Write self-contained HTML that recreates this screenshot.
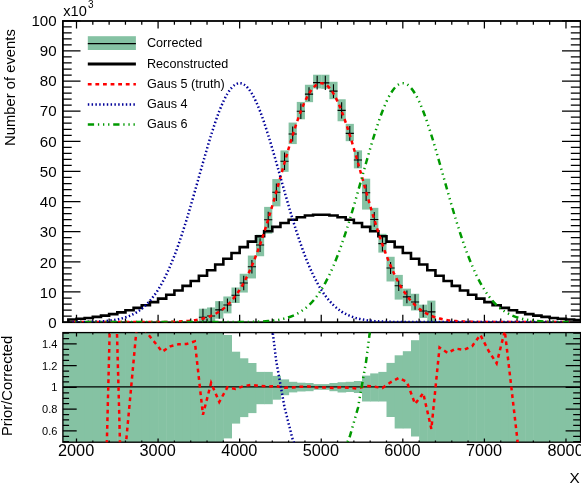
<!DOCTYPE html>
<html><head><meta charset="utf-8"><title>plot</title>
<style>
html,body{margin:0;padding:0;background:#fff;}
body{width:581px;height:484px;position:relative;overflow:hidden;font-family:"Liberation Sans",sans-serif;color:#000;}
</style></head><body>
<svg width="581" height="484" viewBox="0 0 581 484" style="position:absolute;left:0;top:0">
<defs><clipPath id="c1"><rect x="62.9" y="21" width="517.7" height="301.2"/></clipPath><clipPath id="c2"><rect x="62.9" y="332.6" width="517.7" height="109.6"/></clipPath></defs>
<g clip-path="url(#c1)">
<rect x="198.87" y="308.7" width="8.16" height="17.2" fill="#85c2a3"/>
<rect x="207.03" y="307.47" width="8.16" height="17.2" fill="#85c2a3"/>
<rect x="215.19" y="301.15" width="8.16" height="17.5" fill="#85c2a3"/>
<rect x="223.34" y="296.48" width="8.16" height="16.9" fill="#85c2a3"/>
<rect x="231.5" y="287.5" width="8.16" height="15.5" fill="#85c2a3"/>
<rect x="239.66" y="273.76" width="8.16" height="18.8" fill="#85c2a3"/>
<rect x="247.82" y="255.55" width="8.16" height="22.9" fill="#85c2a3"/>
<rect x="255.98" y="234.74" width="8.16" height="21.5" fill="#85c2a3"/>
<rect x="264.13" y="206.89" width="8.16" height="26.8" fill="#85c2a3"/>
<rect x="272.29" y="179.06" width="8.16" height="27.3" fill="#85c2a3"/>
<rect x="280.45" y="150.44" width="8.16" height="21.4" fill="#85c2a3"/>
<rect x="288.61" y="122.57" width="8.16" height="21.5" fill="#85c2a3"/>
<rect x="296.77" y="101.91" width="8.16" height="17.4" fill="#85c2a3"/>
<rect x="304.92" y="84.76" width="8.16" height="17.4" fill="#85c2a3"/>
<rect x="313.08" y="74.72" width="8.16" height="13.7" fill="#85c2a3"/>
<rect x="321.24" y="74.73" width="8.16" height="14.1" fill="#85c2a3"/>
<rect x="329.4" y="81.78" width="8.16" height="17.4" fill="#85c2a3"/>
<rect x="337.56" y="99.26" width="8.16" height="22" fill="#85c2a3"/>
<rect x="345.71" y="123.87" width="8.16" height="17.3" fill="#85c2a3"/>
<rect x="353.87" y="150.37" width="8.16" height="18" fill="#85c2a3"/>
<rect x="362.03" y="178.68" width="8.16" height="30.9" fill="#85c2a3"/>
<rect x="370.19" y="207.84" width="8.16" height="23.3" fill="#85c2a3"/>
<rect x="378.35" y="233.81" width="8.16" height="18.8" fill="#85c2a3"/>
<rect x="386.5" y="256.78" width="8.16" height="24.7" fill="#85c2a3"/>
<rect x="394.66" y="274.89" width="8.16" height="24.7" fill="#85c2a3"/>
<rect x="402.82" y="288.66" width="8.16" height="17.5" fill="#85c2a3"/>
<rect x="410.98" y="293.76" width="8.16" height="16.7" fill="#85c2a3"/>
<rect x="419.14" y="304.66" width="8.16" height="13.3" fill="#85c2a3"/>
<rect x="427.29" y="300.62" width="8.16" height="21.8" fill="#85c2a3"/>
</g>
<rect x="62.9" y="21" width="517.7" height="301.2" fill="none" stroke="#000" stroke-width="1.8"/><path d="M76.5 21v7.5M76.5 322.2v-7.5M92.82 21v3.8M92.82 322.2v-3.8M109.13 21v3.8M109.13 322.2v-3.8M125.45 21v3.8M125.45 322.2v-3.8M141.76 21v3.8M141.76 322.2v-3.8M158.08 21v7.5M158.08 322.2v-7.5M174.4 21v3.8M174.4 322.2v-3.8M190.71 21v3.8M190.71 322.2v-3.8M207.03 21v3.8M207.03 322.2v-3.8M223.34 21v3.8M223.34 322.2v-3.8M239.66 21v7.5M239.66 322.2v-7.5M255.98 21v3.8M255.98 322.2v-3.8M272.29 21v3.8M272.29 322.2v-3.8M288.61 21v3.8M288.61 322.2v-3.8M304.92 21v3.8M304.92 322.2v-3.8M321.24 21v7.5M321.24 322.2v-7.5M337.56 21v3.8M337.56 322.2v-3.8M353.87 21v3.8M353.87 322.2v-3.8M370.19 21v3.8M370.19 322.2v-3.8M386.5 21v3.8M386.5 322.2v-3.8M402.82 21v7.5M402.82 322.2v-7.5M419.14 21v3.8M419.14 322.2v-3.8M435.45 21v3.8M435.45 322.2v-3.8M451.77 21v3.8M451.77 322.2v-3.8M468.08 21v3.8M468.08 322.2v-3.8M484.4 21v7.5M484.4 322.2v-7.5M500.72 21v3.8M500.72 322.2v-3.8M517.03 21v3.8M517.03 322.2v-3.8M533.35 21v3.8M533.35 322.2v-3.8M549.66 21v3.8M549.66 322.2v-3.8M565.98 21v7.5M565.98 322.2v-7.5M62.9 322.1h17.6M580.6 322.1h-18.6M62.9 316.07h8.8M580.6 316.07h-9.8M62.9 310.05h8.8M580.6 310.05h-9.8M62.9 304.02h8.8M580.6 304.02h-9.8M62.9 298h8.8M580.6 298h-9.8M62.9 291.97h17.6M580.6 291.97h-18.6M62.9 285.94h8.8M580.6 285.94h-9.8M62.9 279.92h8.8M580.6 279.92h-9.8M62.9 273.89h8.8M580.6 273.89h-9.8M62.9 267.87h8.8M580.6 267.87h-9.8M62.9 261.84h17.6M580.6 261.84h-18.6M62.9 255.81h8.8M580.6 255.81h-9.8M62.9 249.79h8.8M580.6 249.79h-9.8M62.9 243.76h8.8M580.6 243.76h-9.8M62.9 237.74h8.8M580.6 237.74h-9.8M62.9 231.71h17.6M580.6 231.71h-18.6M62.9 225.68h8.8M580.6 225.68h-9.8M62.9 219.66h8.8M580.6 219.66h-9.8M62.9 213.63h8.8M580.6 213.63h-9.8M62.9 207.61h8.8M580.6 207.61h-9.8M62.9 201.58h17.6M580.6 201.58h-18.6M62.9 195.55h8.8M580.6 195.55h-9.8M62.9 189.53h8.8M580.6 189.53h-9.8M62.9 183.5h8.8M580.6 183.5h-9.8M62.9 177.48h8.8M580.6 177.48h-9.8M62.9 171.45h17.6M580.6 171.45h-18.6M62.9 165.42h8.8M580.6 165.42h-9.8M62.9 159.4h8.8M580.6 159.4h-9.8M62.9 153.37h8.8M580.6 153.37h-9.8M62.9 147.35h8.8M580.6 147.35h-9.8M62.9 141.32h17.6M580.6 141.32h-18.6M62.9 135.29h8.8M580.6 135.29h-9.8M62.9 129.27h8.8M580.6 129.27h-9.8M62.9 123.24h8.8M580.6 123.24h-9.8M62.9 117.22h8.8M580.6 117.22h-9.8M62.9 111.19h17.6M580.6 111.19h-18.6M62.9 105.16h8.8M580.6 105.16h-9.8M62.9 99.14h8.8M580.6 99.14h-9.8M62.9 93.11h8.8M580.6 93.11h-9.8M62.9 87.09h8.8M580.6 87.09h-9.8M62.9 81.06h17.6M580.6 81.06h-18.6M62.9 75.03h8.8M580.6 75.03h-9.8M62.9 69.01h8.8M580.6 69.01h-9.8M62.9 62.98h8.8M580.6 62.98h-9.8M62.9 56.96h8.8M580.6 56.96h-9.8M62.9 50.93h17.6M580.6 50.93h-18.6M62.9 44.9h8.8M580.6 44.9h-9.8M62.9 38.88h8.8M580.6 38.88h-9.8M62.9 32.85h8.8M580.6 32.85h-9.8M62.9 26.83h8.8M580.6 26.83h-9.8M62.9 20.8h17.6M580.6 20.8h-18.6" stroke="#000" stroke-width="1.25" fill="none"/>
<g clip-path="url(#c1)">
<polyline fill="none" stroke="#000" stroke-width="2.6" stroke-linejoin="miter" points="68.34,322.1 68.34,319.5 76.5,319.5 76.5,318.79 84.66,318.79 84.66,317.93 92.82,317.93 92.82,316.88 100.97,316.88 100.97,315.62 109.13,315.62 109.13,314.12 117.29,314.12 117.29,312.36 125.45,312.36 125.45,310.3 133.61,310.3 133.61,307.91 141.76,307.91 141.76,305.18 149.92,305.18 149.92,302.09 158.08,302.09 158.08,298.61 166.24,298.61 166.24,294.76 174.4,294.76 174.4,290.52 182.55,290.52 182.55,285.92 190.71,285.92 190.71,280.98 198.87,280.98 198.87,275.74 207.03,275.74 207.03,270.24 215.19,270.24 215.19,264.56 223.34,264.56 223.34,258.76 231.5,258.76 231.5,252.93 239.66,252.93 239.66,247.17 247.82,247.17 247.82,241.58 255.98,241.58 255.98,236.26 264.13,236.26 264.13,231.31 272.29,231.31 272.29,226.85 280.45,226.85 280.45,222.96 288.61,222.96 288.61,219.74 296.77,219.74 296.77,217.25 304.92,217.25 304.92,215.56 313.08,215.56 313.08,214.7 321.24,214.7 321.24,214.7 329.4,214.7 329.4,215.56 337.56,215.56 337.56,217.25 345.71,217.25 345.71,219.74 353.87,219.74 353.87,222.96 362.03,222.96 362.03,226.85 370.19,226.85 370.19,231.31 378.35,231.31 378.35,236.26 386.5,236.26 386.5,241.58 394.66,241.58 394.66,247.17 402.82,247.17 402.82,252.93 410.98,252.93 410.98,258.76 419.14,258.76 419.14,264.56 427.29,264.56 427.29,270.24 435.45,270.24 435.45,275.74 443.61,275.74 443.61,280.98 451.77,280.98 451.77,285.92 459.93,285.92 459.93,290.52 468.08,290.52 468.08,294.76 476.24,294.76 476.24,298.61 484.4,298.61 484.4,302.09 492.56,302.09 492.56,305.18 500.72,305.18 500.72,307.91 508.87,307.91 508.87,310.3 517.03,310.3 517.03,312.36 525.19,312.36 525.19,314.12 533.35,314.12 533.35,315.62 541.51,315.62 541.51,316.88 549.66,316.88 549.66,317.93 557.82,317.93 557.82,318.79 565.98,318.79 565.98,319.5 574.14,319.5 574.14,320.07 582.3,320.07 582.3,320.53 590.45,320.53"/>
<path d="M198.87 317.3H207.03M202.95 308.7V325.9" stroke="#000" stroke-width="1.1" fill="none"/>
<path d="M207.03 316.07H215.19M211.11 307.47V324.67" stroke="#000" stroke-width="1.1" fill="none"/>
<path d="M215.19 309.9H223.34M219.26 301.15V318.65" stroke="#000" stroke-width="1.1" fill="none"/>
<path d="M223.34 305.05H231.5M227.42 298.55V311.55" stroke="#000" stroke-width="1.1" fill="none"/>
<path d="M231.5 295.19H239.66M235.58 287.79V302.59" stroke="#000" stroke-width="1.1" fill="none"/>
<path d="M239.66 283.07H247.82M243.74 275.77V290.37" stroke="#000" stroke-width="1.1" fill="none"/>
<path d="M247.82 266.7H255.98M251.9 260V273.4" stroke="#000" stroke-width="1.1" fill="none"/>
<path d="M255.98 245.05H264.13M260.06 238.15V251.95" stroke="#000" stroke-width="1.1" fill="none"/>
<path d="M264.13 219.75H272.29M268.21 211.75V227.75" stroke="#000" stroke-width="1.1" fill="none"/>
<path d="M272.29 192.25H280.45M276.37 183.55V200.95" stroke="#000" stroke-width="1.1" fill="none"/>
<path d="M280.45 161.27H288.61M284.53 152.57V169.97" stroke="#000" stroke-width="1.1" fill="none"/>
<path d="M288.61 133.93H296.77M292.69 126.43V141.43" stroke="#000" stroke-width="1.1" fill="none"/>
<path d="M296.77 111.21H304.92M300.85 103.41V119.01" stroke="#000" stroke-width="1.1" fill="none"/>
<path d="M304.92 94.1H313.08M309 87.2V101" stroke="#000" stroke-width="1.1" fill="none"/>
<path d="M313.08 82.65H321.24M317.16 75.8V89.5" stroke="#000" stroke-width="1.1" fill="none"/>
<path d="M321.24 82.89H329.4M325.32 75.84V89.94" stroke="#000" stroke-width="1.1" fill="none"/>
<path d="M329.4 91.12H337.56M333.48 84.22V98.02" stroke="#000" stroke-width="1.1" fill="none"/>
<path d="M337.56 110.36H345.71M341.63 102.16V118.56" stroke="#000" stroke-width="1.1" fill="none"/>
<path d="M345.71 133.37H353.87M349.79 125.97V140.77" stroke="#000" stroke-width="1.1" fill="none"/>
<path d="M353.87 159.97H362.03M357.95 152.07V167.87" stroke="#000" stroke-width="1.1" fill="none"/>
<path d="M362.03 192.76H370.19M366.11 184.56V200.96" stroke="#000" stroke-width="1.1" fill="none"/>
<path d="M370.19 219.45H378.35M374.27 212.05V226.85" stroke="#000" stroke-width="1.1" fill="none"/>
<path d="M378.35 243.66H386.5M382.43 235.76V251.56" stroke="#000" stroke-width="1.1" fill="none"/>
<path d="M386.5 267.97H394.66M390.58 261.97V273.97" stroke="#000" stroke-width="1.1" fill="none"/>
<path d="M394.66 285.72H402.82M398.74 280.42V291.02" stroke="#000" stroke-width="1.1" fill="none"/>
<path d="M402.82 296.86H410.98M406.9 290.56V303.16" stroke="#000" stroke-width="1.1" fill="none"/>
<path d="M410.98 301.95H419.14M415.06 294.25V309.65" stroke="#000" stroke-width="1.1" fill="none"/>
<path d="M419.14 310.96H427.29M423.21 304.66V317.26" stroke="#000" stroke-width="1.1" fill="none"/>
<path d="M427.29 311.92H435.45M431.37 302.42V321.42" stroke="#000" stroke-width="1.1" fill="none"/>
<path fill="none" stroke="#ff0000" stroke-width="2.5" stroke-dasharray="3.8 3.8" stroke-dashoffset="0" d="M72.42 322.1C73.78 322.1 77.86 322.1 80.58 322.1C83.3 322.1 86.02 322.1 88.74 322.1C91.46 322.1 94.18 322.1 96.89 322.1C99.61 322.1 102.33 322.1 105.05 322.1C107.77 322.1 110.49 322.1 113.21 322.1C115.93 322.1 118.65 322.1 121.37 322.1C124.09 322.1 126.81 322.1 129.53 322.1C132.25 322.09 134.97 322.09 137.69 322.09C140.4 322.09 143.12 322.08 145.84 322.08C148.56 322.07 151.28 322.06 154 322.05C156.72 322.03 159.44 322.01 162.16 321.98C164.88 321.95 167.6 321.91 170.32 321.85C173.04 321.78 175.76 321.71 178.47 321.58C181.19 321.45 183.91 321.31 186.63 321.07C189.35 320.83 192.07 320.57 194.79 320.14C197.51 319.72 200.23 319.25 202.95 318.53C205.67 317.82 208.39 317.01 211.11 315.86C213.83 314.7 216.55 313.39 219.26 311.6C221.98 309.81 224.7 307.78 227.42 305.13C230.14 302.49 232.86 299.48 235.58 295.76C238.3 292.04 241.02 287.8 243.74 282.8C246.46 277.8 249.18 272.15 251.9 265.77C254.62 259.39 257.34 252.25 260.06 244.53C262.77 236.81 265.49 228.28 268.21 219.47C270.93 210.65 273.65 201.08 276.37 191.63C279.09 182.17 281.81 172.16 284.53 162.74C287.25 153.32 289.97 143.67 292.69 135.09C295.41 126.51 298.13 118.15 300.85 111.24C303.56 104.34 306.28 98.16 309 93.68C311.72 89.2 314.44 85.91 317.16 84.36C319.88 82.81 322.6 82.81 325.32 84.36C328.04 85.91 330.76 89.2 333.48 93.68C336.2 98.16 338.92 104.34 341.63 111.24C344.35 118.15 347.07 126.51 349.79 135.09C352.51 143.67 355.23 153.32 357.95 162.74C360.67 172.16 363.39 182.17 366.11 191.63C368.83 201.08 371.55 210.65 374.27 219.47C376.99 228.28 379.71 236.81 382.43 244.53C385.14 252.25 387.86 259.39 390.58 265.77C393.3 272.15 396.02 277.8 398.74 282.8C401.46 287.8 404.18 292.04 406.9 295.76C409.62 299.48 412.34 302.49 415.06 305.13C417.78 307.78 420.5 309.81 423.21 311.6C425.93 313.39 428.65 314.7 431.37 315.86C434.09 317.01 436.81 317.82 439.53 318.53C442.25 319.25 444.97 319.72 447.69 320.14C450.41 320.57 453.13 320.83 455.85 321.07C458.57 321.31 461.29 321.45 464 321.58C466.72 321.71 469.44 321.78 472.16 321.85C474.88 321.91 477.6 321.95 480.32 321.98C483.04 322.01 485.76 322.03 488.48 322.05C491.2 322.06 493.92 322.07 496.64 322.08C499.36 322.08 502.08 322.09 504.8 322.09C507.51 322.09 510.23 322.09 512.95 322.1C515.67 322.1 518.39 322.1 521.11 322.1C523.83 322.1 526.55 322.1 529.27 322.1C531.99 322.1 534.71 322.1 537.43 322.1C540.15 322.1 542.87 322.1 545.59 322.1C548.3 322.1 551.02 322.1 553.74 322.1C556.46 322.1 559.18 322.1 561.9 322.1C564.62 322.1 568.7 322.1 570.06 322.1"/>
<path fill="none" stroke="#000099" stroke-width="2.5" stroke-dasharray="1.45 2.35" stroke-dashoffset="0" d="M72.42 322.05C73.78 322.04 77.86 322.01 80.58 321.98C83.3 321.95 86.02 321.91 88.74 321.85C91.46 321.78 94.18 321.71 96.89 321.58C99.61 321.45 102.33 321.31 105.05 321.07C107.77 320.83 110.49 320.57 113.21 320.14C115.93 319.72 118.65 319.25 121.37 318.53C124.09 317.82 126.81 317.01 129.53 315.86C132.25 314.7 134.97 313.39 137.69 311.6C140.4 309.81 143.12 307.78 145.84 305.13C148.56 302.49 151.28 299.48 154 295.76C156.72 292.04 159.44 287.8 162.16 282.8C164.88 277.8 167.6 272.15 170.32 265.77C173.04 259.39 175.76 252.25 178.47 244.53C181.19 236.81 183.91 228.28 186.63 219.47C189.35 210.65 192.07 201.08 194.79 191.63C197.51 182.17 200.23 172.16 202.95 162.74C205.67 153.32 208.39 143.67 211.11 135.09C213.83 126.51 216.55 118.15 219.26 111.24C221.98 104.34 224.7 98.16 227.42 93.68C230.14 89.2 232.86 85.91 235.58 84.36C238.3 82.81 241.02 82.81 243.74 84.36C246.46 85.91 249.18 89.2 251.9 93.68C254.62 98.16 257.34 104.34 260.06 111.24C262.77 118.15 265.49 126.51 268.21 135.09C270.93 143.67 273.65 153.32 276.37 162.74C279.09 172.16 281.81 182.17 284.53 191.63C287.25 201.08 289.97 210.65 292.69 219.47C295.41 228.28 298.13 236.81 300.85 244.53C303.56 252.25 306.28 259.39 309 265.77C311.72 272.15 314.44 277.8 317.16 282.8C319.88 287.8 322.6 292.04 325.32 295.76C328.04 299.48 330.76 302.49 333.48 305.13C336.2 307.78 338.92 309.81 341.63 311.6C344.35 313.39 347.07 314.7 349.79 315.86C352.51 317.01 355.23 317.82 357.95 318.53C360.67 319.25 363.39 319.72 366.11 320.14C368.83 320.57 371.55 320.83 374.27 321.07C376.99 321.31 379.71 321.45 382.43 321.58C385.14 321.71 387.86 321.78 390.58 321.85C393.3 321.91 396.02 321.95 398.74 321.98C401.46 322.01 404.18 322.03 406.9 322.05C409.62 322.06 412.34 322.07 415.06 322.08C417.78 322.08 420.5 322.09 423.21 322.09C425.93 322.09 428.65 322.09 431.37 322.1C434.09 322.1 436.81 322.1 439.53 322.1C442.25 322.1 444.97 322.1 447.69 322.1C450.41 322.1 453.13 322.1 455.85 322.1C458.57 322.1 461.29 322.1 464 322.1C466.72 322.1 469.44 322.1 472.16 322.1C474.88 322.1 477.6 322.1 480.32 322.1C483.04 322.1 485.76 322.1 488.48 322.1C491.2 322.1 493.92 322.1 496.64 322.1C499.36 322.1 502.08 322.1 504.8 322.1C507.51 322.1 510.23 322.1 512.95 322.1C515.67 322.1 518.39 322.1 521.11 322.1C523.83 322.1 526.55 322.1 529.27 322.1C531.99 322.1 534.71 322.1 537.43 322.1C540.15 322.1 542.87 322.1 545.59 322.1C548.3 322.1 551.02 322.1 553.74 322.1C556.46 322.1 559.18 322.1 561.9 322.1C564.62 322.1 568.7 322.1 570.06 322.1"/>
<path fill="none" stroke="#009900" stroke-width="2.5" stroke-dasharray="6.3 3.8 1.3 3.8 1.3 3.8 1.3 3.8" stroke-dashoffset="12.6" d="M72.42 322.1C73.78 322.1 77.86 322.1 80.58 322.1C83.3 322.1 86.02 322.1 88.74 322.1C91.46 322.1 94.18 322.1 96.89 322.1C99.61 322.1 102.33 322.1 105.05 322.1C107.77 322.1 110.49 322.1 113.21 322.1C115.93 322.1 118.65 322.1 121.37 322.1C124.09 322.1 126.81 322.1 129.53 322.1C132.25 322.1 134.97 322.1 137.69 322.1C140.4 322.1 143.12 322.1 145.84 322.1C148.56 322.1 151.28 322.1 154 322.1C156.72 322.1 159.44 322.1 162.16 322.1C164.88 322.1 167.6 322.1 170.32 322.1C173.04 322.1 175.76 322.1 178.47 322.1C181.19 322.1 183.91 322.1 186.63 322.1C189.35 322.1 192.07 322.1 194.79 322.1C197.51 322.1 200.23 322.1 202.95 322.1C205.67 322.1 208.39 322.1 211.11 322.1C213.83 322.09 216.55 322.09 219.26 322.09C221.98 322.09 224.7 322.08 227.42 322.08C230.14 322.07 232.86 322.06 235.58 322.05C238.3 322.03 241.02 322.01 243.74 321.98C246.46 321.95 249.18 321.91 251.9 321.85C254.62 321.78 257.34 321.71 260.06 321.58C262.77 321.45 265.49 321.31 268.21 321.07C270.93 320.83 273.65 320.57 276.37 320.14C279.09 319.72 281.81 319.25 284.53 318.53C287.25 317.82 289.97 317.01 292.69 315.86C295.41 314.7 298.13 313.39 300.85 311.6C303.56 309.81 306.28 307.78 309 305.13C311.72 302.49 314.44 299.48 317.16 295.76C319.88 292.04 322.6 287.8 325.32 282.8C328.04 277.8 330.76 272.15 333.48 265.77C336.2 259.39 338.92 252.25 341.63 244.53C344.35 236.81 347.07 228.28 349.79 219.47C352.51 210.65 355.23 201.08 357.95 191.63C360.67 182.17 363.39 172.16 366.11 162.74C368.83 153.32 371.55 143.67 374.27 135.09C376.99 126.51 379.71 118.15 382.43 111.24C385.14 104.34 387.86 98.16 390.58 93.68C393.3 89.2 396.02 85.91 398.74 84.36C401.46 82.81 404.18 82.81 406.9 84.36C409.62 85.91 412.34 89.2 415.06 93.68C417.78 98.16 420.5 104.34 423.21 111.24C425.93 118.15 428.65 126.51 431.37 135.09C434.09 143.67 436.81 153.32 439.53 162.74C442.25 172.16 444.97 182.17 447.69 191.63C450.41 201.08 453.13 210.65 455.85 219.47C458.57 228.28 461.29 236.81 464 244.53C466.72 252.25 469.44 259.39 472.16 265.77C474.88 272.15 477.6 277.8 480.32 282.8C483.04 287.8 485.76 292.04 488.48 295.76C491.2 299.48 493.92 302.49 496.64 305.13C499.36 307.78 502.08 309.81 504.8 311.6C507.51 313.39 510.23 314.7 512.95 315.86C515.67 317.01 518.39 317.82 521.11 318.53C523.83 319.25 526.55 319.72 529.27 320.14C531.99 320.57 534.71 320.83 537.43 321.07C540.15 321.31 542.87 321.45 545.59 321.58C548.3 321.71 551.02 321.78 553.74 321.85C556.46 321.91 559.18 321.95 561.9 321.98C564.62 322.01 568.7 322.04 570.06 322.05"/>
</g>
<g clip-path="url(#c2)">
<rect x="52.03" y="331.6" width="8.66" height="111.6" fill="#85c2a3"/>
<rect x="60.18" y="331.6" width="8.66" height="111.6" fill="#85c2a3"/>
<rect x="68.34" y="331.6" width="8.66" height="111.6" fill="#85c2a3"/>
<rect x="76.5" y="331.6" width="8.66" height="111.6" fill="#85c2a3"/>
<rect x="84.66" y="331.6" width="8.66" height="111.6" fill="#85c2a3"/>
<rect x="92.82" y="331.6" width="8.66" height="111.6" fill="#85c2a3"/>
<rect x="100.97" y="331.6" width="8.66" height="111.6" fill="#85c2a3"/>
<rect x="109.13" y="331.6" width="8.66" height="111.6" fill="#85c2a3"/>
<rect x="117.29" y="331.6" width="8.66" height="111.6" fill="#85c2a3"/>
<rect x="125.45" y="331.6" width="8.66" height="111.6" fill="#85c2a3"/>
<rect x="133.61" y="331.6" width="8.66" height="111.6" fill="#85c2a3"/>
<rect x="141.76" y="331.6" width="8.66" height="111.6" fill="#85c2a3"/>
<rect x="149.92" y="331.6" width="8.66" height="111.6" fill="#85c2a3"/>
<rect x="158.08" y="331.6" width="8.66" height="111.6" fill="#85c2a3"/>
<rect x="166.24" y="331.6" width="8.66" height="111.6" fill="#85c2a3"/>
<rect x="174.4" y="331.6" width="8.66" height="111.6" fill="#85c2a3"/>
<rect x="182.55" y="331.6" width="8.66" height="111.6" fill="#85c2a3"/>
<rect x="190.71" y="331.6" width="8.66" height="111.6" fill="#85c2a3"/>
<rect x="198.87" y="331.6" width="8.66" height="111.6" fill="#85c2a3"/>
<rect x="207.03" y="331.6" width="8.66" height="111.6" fill="#85c2a3"/>
<rect x="215.19" y="331.6" width="8.66" height="111.6" fill="#85c2a3"/>
<rect x="223.34" y="335" width="8.66" height="103.4" fill="#85c2a3"/>
<rect x="231.5" y="351.7" width="8.66" height="71.9" fill="#85c2a3"/>
<rect x="239.66" y="358.3" width="8.66" height="58.8" fill="#85c2a3"/>
<rect x="247.82" y="363" width="8.66" height="50.1" fill="#85c2a3"/>
<rect x="255.98" y="371.9" width="8.66" height="32.3" fill="#85c2a3"/>
<rect x="264.13" y="371.9" width="8.66" height="32.3" fill="#85c2a3"/>
<rect x="272.29" y="375.9" width="8.66" height="23.8" fill="#85c2a3"/>
<rect x="280.45" y="379.4" width="8.66" height="15.8" fill="#85c2a3"/>
<rect x="288.61" y="381.8" width="8.66" height="10.6" fill="#85c2a3"/>
<rect x="296.77" y="382.7" width="8.66" height="8.8" fill="#85c2a3"/>
<rect x="304.92" y="383" width="8.66" height="8.2" fill="#85c2a3"/>
<rect x="313.08" y="384.1" width="8.66" height="5.7" fill="#85c2a3"/>
<rect x="321.24" y="384.1" width="8.66" height="5.7" fill="#85c2a3"/>
<rect x="329.4" y="383" width="8.66" height="8.2" fill="#85c2a3"/>
<rect x="337.56" y="382.2" width="8.66" height="10.3" fill="#85c2a3"/>
<rect x="345.71" y="381.8" width="8.66" height="10.2" fill="#85c2a3"/>
<rect x="353.87" y="381" width="8.66" height="12" fill="#85c2a3"/>
<rect x="362.03" y="375.6" width="8.66" height="25.9" fill="#85c2a3"/>
<rect x="370.19" y="373.4" width="8.66" height="28.1" fill="#85c2a3"/>
<rect x="378.35" y="371.9" width="8.66" height="29.6" fill="#85c2a3"/>
<rect x="386.5" y="362.9" width="8.66" height="54.1" fill="#85c2a3"/>
<rect x="394.66" y="355.3" width="8.66" height="73.2" fill="#85c2a3"/>
<rect x="402.82" y="351.2" width="8.66" height="77.3" fill="#85c2a3"/>
<rect x="410.98" y="340.2" width="8.66" height="96.3" fill="#85c2a3"/>
<rect x="419.14" y="331.6" width="8.66" height="111.6" fill="#85c2a3"/>
<rect x="427.29" y="331.6" width="8.66" height="111.6" fill="#85c2a3"/>
<rect x="435.45" y="331.6" width="8.66" height="111.6" fill="#85c2a3"/>
<rect x="443.61" y="331.6" width="8.66" height="111.6" fill="#85c2a3"/>
<rect x="451.77" y="331.6" width="8.66" height="111.6" fill="#85c2a3"/>
<rect x="459.93" y="331.6" width="8.66" height="111.6" fill="#85c2a3"/>
<rect x="468.08" y="331.6" width="8.66" height="111.6" fill="#85c2a3"/>
<rect x="476.24" y="331.6" width="8.66" height="111.6" fill="#85c2a3"/>
<rect x="484.4" y="331.6" width="8.66" height="111.6" fill="#85c2a3"/>
<rect x="492.56" y="331.6" width="8.66" height="111.6" fill="#85c2a3"/>
<rect x="500.72" y="331.6" width="8.66" height="111.6" fill="#85c2a3"/>
<rect x="508.87" y="331.6" width="8.66" height="111.6" fill="#85c2a3"/>
<rect x="517.03" y="331.6" width="8.66" height="111.6" fill="#85c2a3"/>
<rect x="525.19" y="331.6" width="8.66" height="111.6" fill="#85c2a3"/>
<rect x="533.35" y="331.6" width="8.66" height="111.6" fill="#85c2a3"/>
<rect x="541.51" y="331.6" width="8.66" height="111.6" fill="#85c2a3"/>
<rect x="549.66" y="331.6" width="8.66" height="111.6" fill="#85c2a3"/>
<rect x="557.82" y="331.6" width="8.66" height="111.6" fill="#85c2a3"/>
<rect x="565.98" y="331.6" width="8.66" height="111.6" fill="#85c2a3"/>
<rect x="574.14" y="331.6" width="8.66" height="111.6" fill="#85c2a3"/>
<rect x="582.3" y="331.6" width="8.66" height="111.6" fill="#85c2a3"/>
</g>
<rect x="62.9" y="332.6" width="517.7" height="109.6" fill="none" stroke="#000" stroke-width="1.35"/><path d="M76.5 332.6v3.8M76.5 442.2v-3.8M92.82 332.6v1.8M92.82 442.2v-1.8M109.13 332.6v1.8M109.13 442.2v-1.8M125.45 332.6v1.8M125.45 442.2v-1.8M141.76 332.6v1.8M141.76 442.2v-1.8M158.08 332.6v3.8M158.08 442.2v-3.8M174.4 332.6v1.8M174.4 442.2v-1.8M190.71 332.6v1.8M190.71 442.2v-1.8M207.03 332.6v1.8M207.03 442.2v-1.8M223.34 332.6v1.8M223.34 442.2v-1.8M239.66 332.6v3.8M239.66 442.2v-3.8M255.98 332.6v1.8M255.98 442.2v-1.8M272.29 332.6v1.8M272.29 442.2v-1.8M288.61 332.6v1.8M288.61 442.2v-1.8M304.92 332.6v1.8M304.92 442.2v-1.8M321.24 332.6v3.8M321.24 442.2v-3.8M337.56 332.6v1.8M337.56 442.2v-1.8M353.87 332.6v1.8M353.87 442.2v-1.8M370.19 332.6v1.8M370.19 442.2v-1.8M386.5 332.6v1.8M386.5 442.2v-1.8M402.82 332.6v3.8M402.82 442.2v-3.8M419.14 332.6v1.8M419.14 442.2v-1.8M435.45 332.6v1.8M435.45 442.2v-1.8M451.77 332.6v1.8M451.77 442.2v-1.8M468.08 332.6v1.8M468.08 442.2v-1.8M484.4 332.6v3.8M484.4 442.2v-3.8M500.72 332.6v1.8M500.72 442.2v-1.8M517.03 332.6v1.8M517.03 442.2v-1.8M533.35 332.6v1.8M533.35 442.2v-1.8M549.66 332.6v1.8M549.66 442.2v-1.8M565.98 332.6v3.8M565.98 442.2v-3.8M62.9 441.7h6.2M580.6 441.7h-7.4M62.9 436.27h6.2M580.6 436.27h-7.4M62.9 430.84h13.8M580.6 430.84h-15M62.9 425.41h6.2M580.6 425.41h-7.4M62.9 419.98h6.2M580.6 419.98h-7.4M62.9 414.55h6.2M580.6 414.55h-7.4M62.9 409.12h13.8M580.6 409.12h-15M62.9 403.69h6.2M580.6 403.69h-7.4M62.9 398.26h6.2M580.6 398.26h-7.4M62.9 392.83h6.2M580.6 392.83h-7.4M62.9 387.4h13.8M580.6 387.4h-15M62.9 381.97h6.2M580.6 381.97h-7.4M62.9 376.54h6.2M580.6 376.54h-7.4M62.9 371.11h6.2M580.6 371.11h-7.4M62.9 365.68h13.8M580.6 365.68h-15M62.9 360.25h6.2M580.6 360.25h-7.4M62.9 354.82h6.2M580.6 354.82h-7.4M62.9 349.39h6.2M580.6 349.39h-7.4M62.9 343.96h13.8M580.6 343.96h-15M62.9 338.53h6.2M580.6 338.53h-7.4M62.9 333.1h6.2M580.6 333.1h-7.4" stroke="#000" stroke-width="1.25" fill="none"/>
<g clip-path="url(#c2)">
<path d="M62.9 386.9H580.6" stroke="#000" stroke-width="1.3"/>
<polyline fill="none" stroke="#ff0000" stroke-width="2.5" stroke-dasharray="3.8 3.8" points="105.05,512.29 113.21,195.18 121.37,492.74 137.69,316.81 145.84,331.47 154,341.46 162.16,351.78 170.32,346.35 178.47,344.29 186.63,343.96 194.79,341.35 202.95,414.77 211.11,382.84 219.26,401.95 227.42,387.29 235.58,389.03 243.74,385.99 251.9,384.9 260.06,385.99 268.21,386.42 276.37,386.21 284.53,387.73 292.69,387.4 300.85,386.75 309,386.53 317.16,387.51 325.32,387.4 333.48,387.94 341.63,387.18 349.79,387.73 357.95,388.59 366.11,385.77 374.27,386.75 382.43,387.94 390.58,382.3 398.74,377.95 406.9,381.97 415.06,404.02 423.21,393.05 431.37,428.99 439.53,347.44 447.69,352.97 455.85,348.63 464,349.82 472.16,346.13 480.32,334.84 488.48,350.69 496.64,363.4 504.8,330.93 512.95,401.19 521.11,472.11"/>
<polyline fill="none" stroke="#000099" stroke-width="2.5" stroke-dasharray="1.45 2.35" points="251.9,45.48 260.06,196.96 268.21,296.34 276.37,361.9 284.53,407.35 292.69,439.53 300.85,457.99 309,469.01 317.16,478.07"/>
<polyline fill="none" stroke="#009900" stroke-width="2.5" stroke-dasharray="6.3 3.8 1.3 3.8 1.3 3.8 1.3 3.8" stroke-dashoffset="3" points="325.32,478.05 333.48,469.35 341.63,455.97 349.79,436.58 357.95,408.06 366.11,361.37 374.27,296.93 382.43,202.27 390.58,34.91"/>
</g>
<rect x="87.8" y="36.2" width="48.1" height="13.8" fill="#85c2a3"/>
<path d="M87.8 43.6H135.9" stroke="#000" stroke-width="1.1"/>
<path d="M87.8 64H135.9" stroke="#000" stroke-width="2.8"/>
<path d="M87.8 84.2H135.9" stroke="#ff0000" stroke-width="2.5" stroke-dasharray="3.8 3.8"/>
<path d="M87.8 104.4H135.9" stroke="#000099" stroke-width="2.5" stroke-dasharray="1.45 2.35"/>
<path d="M87.8 124.5H135.9" stroke="#009900" stroke-width="2.5" stroke-dasharray="6.3 3.8 1.3 3.8 1.3 3.8 1.3 3.8"/>
</svg>
<div style="position:absolute;left:0;top:0;width:581px;height:484px;will-change:transform">
<div style="position:absolute;white-space:nowrap;font-size:12.6px;line-height:1;left:147px;top:37.33px;">Corrected</div>
<div style="position:absolute;white-space:nowrap;font-size:12.6px;line-height:1;left:147px;top:57.51px;">Reconstructed</div>
<div style="position:absolute;white-space:nowrap;font-size:12.6px;line-height:1;left:147px;top:77.69px;">Gaus 5 (truth)</div>
<div style="position:absolute;white-space:nowrap;font-size:12.6px;line-height:1;left:147px;top:97.87px;">Gaus 4</div>
<div style="position:absolute;white-space:nowrap;font-size:12.6px;line-height:1;left:147px;top:118.05px;">Gaus 6</div>
<div style="position:absolute;white-space:nowrap;font-size:15.1px;line-height:1;right:524.4px;top:315.02px;">0</div>
<div style="position:absolute;white-space:nowrap;font-size:15.1px;line-height:1;right:524.4px;top:284.8px;">10</div>
<div style="position:absolute;white-space:nowrap;font-size:15.1px;line-height:1;right:524.4px;top:254.58px;">20</div>
<div style="position:absolute;white-space:nowrap;font-size:15.1px;line-height:1;right:524.4px;top:224.36px;">30</div>
<div style="position:absolute;white-space:nowrap;font-size:15.1px;line-height:1;right:524.4px;top:194.14px;">40</div>
<div style="position:absolute;white-space:nowrap;font-size:15.1px;line-height:1;right:524.4px;top:163.92px;">50</div>
<div style="position:absolute;white-space:nowrap;font-size:15.1px;line-height:1;right:524.4px;top:133.7px;">60</div>
<div style="position:absolute;white-space:nowrap;font-size:15.1px;line-height:1;right:524.4px;top:103.48px;">70</div>
<div style="position:absolute;white-space:nowrap;font-size:15.1px;line-height:1;right:524.4px;top:73.26px;">80</div>
<div style="position:absolute;white-space:nowrap;font-size:15.1px;line-height:1;right:524.4px;top:43.04px;">90</div>
<div style="position:absolute;white-space:nowrap;font-size:15.1px;line-height:1;right:524.4px;top:12.82px;">100</div>
<div style="position:absolute;white-space:nowrap;font-size:11px;line-height:1;right:523.7px;top:425.73px;">0.6</div>
<div style="position:absolute;white-space:nowrap;font-size:11px;line-height:1;right:523.7px;top:404.01px;">0.8</div>
<div style="position:absolute;white-space:nowrap;font-size:11px;line-height:1;right:523.7px;top:382.29px;">1</div>
<div style="position:absolute;white-space:nowrap;font-size:11px;line-height:1;right:523.7px;top:360.57px;">1.2</div>
<div style="position:absolute;white-space:nowrap;font-size:11px;line-height:1;right:523.7px;top:338.85px;">1.4</div>
<div style="position:absolute;white-space:nowrap;font-size:16.3px;line-height:1;left:76.1px;transform:translateX(-50%);top:442.3px;">2000</div>
<div style="position:absolute;white-space:nowrap;font-size:16.3px;line-height:1;left:157.68px;transform:translateX(-50%);top:442.3px;">3000</div>
<div style="position:absolute;white-space:nowrap;font-size:16.3px;line-height:1;left:239.26px;transform:translateX(-50%);top:442.3px;">4000</div>
<div style="position:absolute;white-space:nowrap;font-size:16.3px;line-height:1;left:320.84px;transform:translateX(-50%);top:442.3px;">5000</div>
<div style="position:absolute;white-space:nowrap;font-size:16.3px;line-height:1;left:402.42px;transform:translateX(-50%);top:442.3px;">6000</div>
<div style="position:absolute;white-space:nowrap;font-size:16.3px;line-height:1;left:484px;transform:translateX(-50%);top:442.3px;">7000</div>
<div style="position:absolute;white-space:nowrap;font-size:16.3px;line-height:1;left:565.58px;transform:translateX(-50%);top:442.3px;">8000</div>
<div style="position:absolute;white-space:nowrap;font-size:14.6px;line-height:1;left:63.3px;top:3.64px;">x10</div>
<div style="position:absolute;white-space:nowrap;font-size:10px;line-height:1;left:88px;top:-0.27px;">3</div>
<div style="position:absolute;white-space:nowrap;font-size:15.3px;line-height:1;left:569.5px;top:470.45px;">X</div>
<div style="position:absolute;white-space:nowrap;font-size:14.8px;line-height:1;left:3.2px;top:146.2px;transform-origin:0 0;transform:rotate(-90deg)">Number of events</div>
<div style="position:absolute;white-space:nowrap;font-size:14.8px;line-height:1;left:-0.4px;top:436.4px;transform-origin:0 0;transform:rotate(-90deg)">Prior/Corrected</div>
</div>
</body></html>
